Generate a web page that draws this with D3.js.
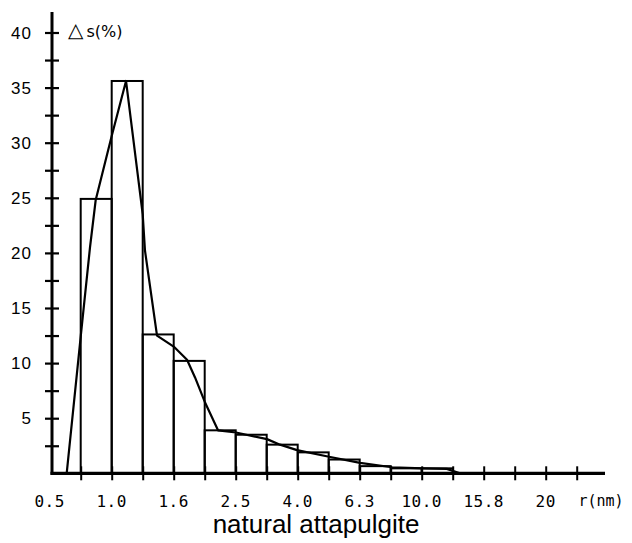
<!DOCTYPE html>
<html><head><meta charset="utf-8">
<script src="https://cdn.jsdelivr.net/npm/d3@7"></script>
<style>body{margin:0;background:#fff}svg{display:block}</style>
</head><body>
<svg id="c" width="632" height="543"></svg>
<script>
// ---- data ----
const xTickLabels = ["0.5","1.0","1.6","2.5","4.0","6.3","10.0","15.8","20"];
// bars: start/end positions along axis (label index units) and percentage values
const barStart = [0.5,1.0,1.5,2.0,2.5,3.0,3.5,4.0,4.5,5.0,5.5,6.0];
const barValue = [24.9,35.6,12.6,10.2,3.9,3.5,2.6,1.9,1.25,0.65,0.45,0.45];
const barWidth = 0.5;
// smooth curve (axis position, percentage)
const curveX = [0.274,0.5,0.65,0.742,1.0,1.231,1.5,1.537,1.731,2.0,2.215,2.344,2.5,2.715,3.005,3.505,3.715,3.989,4.505,5.005,5.521,6.02,6.405,6.616];
const curveY = [0,12.4,20.5,24.8,30.6,35.6,23.5,20.2,12.5,11.5,10.3,8.7,6.5,3.9,3.7,3.1,2.6,2.1,1.5,0.95,0.55,0.45,0.4,0];
const yTickValues = [2.5,5,7.5,10,12.5,15,17.5,20,22.5,25,27.5,30,32.5,35,37.5,40];
const yLabelValues = [5,10,15,20,25,30,35,40];

const svg = d3.select("#c");
const x = d3.scaleLinear().domain([0,8]).range([49.7,545.7]);
const y = d3.scaleLinear().domain([0,40]).range([473.3,32.5]);
const x0 = 52;

// bars
svg.append("g").selectAll("rect").data(barStart).join("rect")
  .attr("x",(d)=>x(d)).attr("width",(d)=>x(d+barWidth)-x(d))
  .attr("y",(d,i)=>y(barValue[i])).attr("height",(d,i)=>y(0)-y(barValue[i]))
  .attr("fill","none").attr("stroke","#000").attr("stroke-width",2);

// curve
const pts = curveX.map((d,i)=>[d,curveY[i]]);
svg.append("path").datum(pts)
  .attr("d",d3.line().x(d=>x(d[0])).y(d=>y(d[1])))
  .attr("fill","none").attr("stroke","#000").attr("stroke-width",2.2).attr("stroke-linejoin","round");

// y axis
const ya = svg.append("g").attr("transform",`translate(${x0},0)`)
  .call(d3.axisLeft(y).tickValues(yTickValues).tickSize(7).tickFormat(""));
ya.select(".domain").remove();
ya.selectAll(".tick line").attr("x1",-7).attr("x2",7).attr("stroke-width",2.2);
svg.append("line").attr("x1",x0).attr("x2",x0).attr("y1",12).attr("y2",y(0)+1.5)
  .attr("stroke","#000").attr("stroke-width",3);
svg.append("g").selectAll("text").data(yLabelValues).join("text")
  .attr("x",32).attr("y",d=>y(d)).attr("dy","0.36em").attr("text-anchor","end")
  .attr("font-family","Liberation Sans, Arial, sans-serif").attr("font-size",17)
  .attr("letter-spacing",1).text(d=>d);

// x axis
const xTickPos = d3.range(0.5,8.51,0.5);
const xa = svg.append("g").attr("transform",`translate(0,${y(0)})`)
  .call(d3.axisBottom(x).tickValues(xTickPos).tickSize(7).tickFormat(""));
xa.select(".domain").remove();
xa.selectAll(".tick line").attr("y1",-7).attr("y2",7).attr("stroke-width",2);
svg.append("line").attr("x1",x0-1.5).attr("x2",605).attr("y1",y(0)).attr("y2",y(0))
  .attr("stroke","#000").attr("stroke-width",3.2);
svg.append("g").selectAll("text").data(xTickLabels).join("text")
  .attr("x",(d,i)=>x(i)).attr("y",501).attr("dy","0.36em").attr("text-anchor","middle")
  .attr("font-family","DejaVu Sans Mono, monospace").attr("font-size",16)
  .attr("letter-spacing",0.5).text(d=>d);
svg.append("text").attr("x",601).attr("y",501).attr("dy","0.36em").attr("text-anchor","middle")
  .attr("font-family","DejaVu Sans Mono, monospace").attr("font-size",15).text("r(nm)");

// y label
const yl = svg.append("text").attr("x",68).attr("y",31).attr("dy","0.36em")
  .attr("font-family","DejaVu Sans, sans-serif");
yl.append("tspan").attr("font-size",20).text("△");
yl.append("tspan").attr("font-size",16).attr("dx",3).text("s(%)");

// title
svg.append("text").attr("x",316).attr("y",533).attr("text-anchor","middle")
  .attr("font-family","Liberation Sans, Arial, sans-serif").attr("font-size",26).text("natural attapulgite");
</script>
</body></html>
